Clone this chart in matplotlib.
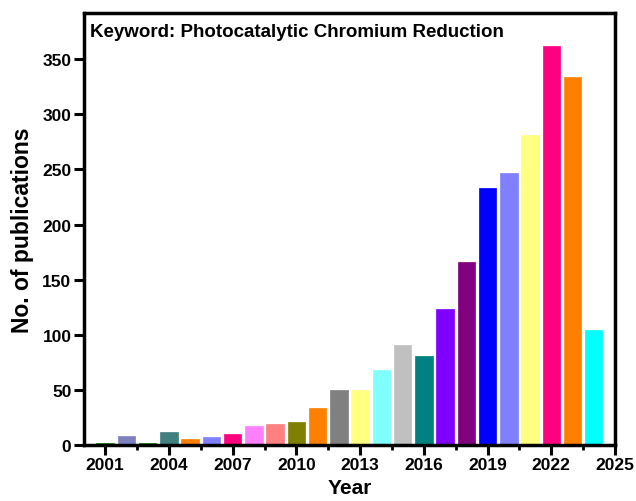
import numpy as np
import matplotlib.pyplot as plt
from matplotlib.ticker import MultipleLocator

plt.rcParams['font.family'] = ['Liberation Sans', 'DejaVu Sans']
plt.rcParams['font.weight'] = 'bold'

years = np.arange(2001, 2025)
counts = [2, 8, 2, 12, 5, 7, 10, 17, 19, 21, 33, 50,
          50, 68, 91, 81, 123, 166, 233, 247, 281, 362, 334, 104]
colors = ['#008000', '#8080C0', '#008000', '#408080', '#FF8000', '#8080FF',
          '#FF0080', '#FF80FF', '#FF8080', '#808000', '#FF8000', '#808080',
          '#FFFF80', '#80FFFF', '#C0C0C0', '#008080', '#8000FF', '#800080',
          '#0000FF', '#8080FF', '#FFFF80', '#FF0080', '#FF8000', '#00FFFF']

fig = plt.figure(figsize=(6.36, 5.02), dpi=100)
ax = fig.add_axes([0.132, 0.112, 0.835, 0.860])
ax.bar(years, counts, width=0.82, color=colors, edgecolor=colors, linewidth=0.5)

ax.set_xlim(2000, 2025)
ax.set_ylim(0, 392)
ax.set_xticks(np.arange(2001, 2026, 3))
ax.xaxis.set_minor_locator(MultipleLocator(1.5))
ax.yaxis.set_major_locator(MultipleLocator(50))

for s in ax.spines.values():
    s.set_linewidth(2.5)
ax.tick_params(axis='both', which='major', direction='out', length=7, width=2.2,
               labelsize=12.5, pad=2)
ax.tick_params(axis='x', which='minor', direction='out', length=3.5, width=2)
for lab in ax.get_xticklabels() + ax.get_yticklabels():
    lab.set_fontweight('bold')

ax.set_xlabel('Year', fontsize=15, fontweight='bold', labelpad=4)
ax.set_ylabel('No. of publications', fontsize=16.5, fontweight='bold', labelpad=6)
ax.text(0.012, 0.978, 'Keyword: Photocatalytic Chromium Reduction', transform=ax.transAxes,
        fontsize=13.5, fontweight='bold', va='top', ha='left')

fig.savefig('out.png', dpi=100)
